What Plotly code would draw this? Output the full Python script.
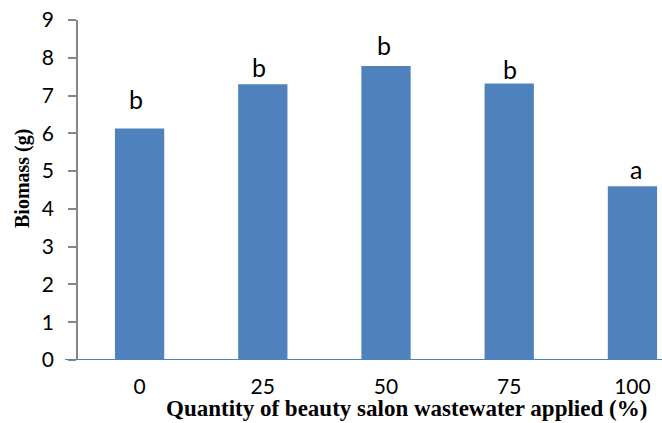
import plotly.graph_objects as go

# Biomass response to beauty salon wastewater dose
doses = ["0", "25", "50", "75", "100"]
biomass = [6.13, 7.30, 7.78, 7.32, 4.60]
groups = ["b", "b", "b", "b", "a"]

BAR = "#4F81BD"
AXIS_GREY = "#868686"
SANS = "Lato, 'Liberation Sans', Arial, sans-serif"
SERIF = "'Liberation Serif', 'Times New Roman', serif"

fig = go.Figure()
fig.add_trace(go.Bar(
    x=doses, y=biomass, width=0.4,
    marker=dict(color=BAR, line=dict(width=0)),
    showlegend=False, hoverinfo="skip",
))

# significance letters above bars (pixel lift / nudge per letter)
letter_lift = [29, 17, 21, 14, 17]
letter_nudge = [-4, -4, -2, 1, 4]
for i, (v, g, dy, dx) in enumerate(zip(biomass, groups, letter_lift, letter_nudge)):
    fig.add_annotation(x=i, y=v, text=g, showarrow=False, yanchor="middle",
                       yshift=dy, xshift=dx,
                       font=dict(family=SANS, size=25, color="#000000"))

# axis titles
fig.add_annotation(xref="paper", yref="paper", x=(406 - 78) / 584, y=-48 / 340,
                   text="<b>Quantity of beauty salon wastewater applied (%)</b>",
                   showarrow=False, xanchor="center", yanchor="middle",
                   font=dict(family=SERIF, size=23, color="#000000"))
fig.add_annotation(xref="paper", yref="paper", x=-56 / 584, y=(360 - 179) / 340,
                   text="<b>Biomass (g)</b>", textangle=-90,
                   showarrow=False, xanchor="center", yanchor="middle",
                   font=dict(family=SERIF, size=20, color="#000000"))

# blue baseline, extending slightly left of the value axis
fig.add_shape(type="line", xref="paper", yref="y", x0=-13 / 584, x1=1, y0=0, y1=0,
              line=dict(color=BAR, width=1.8))

fig.update_layout(
    width=662, height=423,
    margin=dict(l=78, r=0, t=20, b=63),
    paper_bgcolor="white", plot_bgcolor="white",
    bargap=0.6,
    xaxis=dict(
        type="category", range=[-0.5, 4.24],
        showline=False, showgrid=False, zeroline=False,
        ticks="", ticklabelstandoff=12,
        tickfont=dict(family=SANS, size=21, color="#000000"),
    ),
    yaxis=dict(
        range=[0, 9], dtick=1, tick0=0,
        showline=True, linecolor=AXIS_GREY, linewidth=1.5,
        ticks="outside", ticklen=8, tickcolor=AXIS_GREY, tickwidth=1.5,
        showgrid=False, zeroline=False, ticklabelstandoff=10,
        tickfont=dict(family=SANS, size=21, color="#000000"),
    ),
)

fig.write_html("out.html")
